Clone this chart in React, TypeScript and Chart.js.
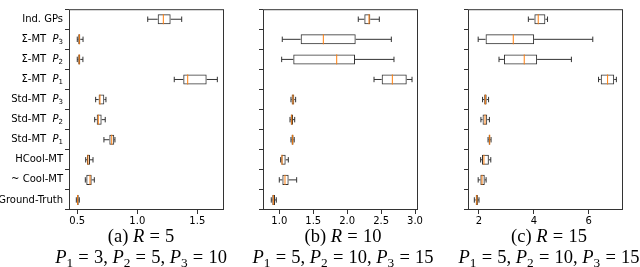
import React, { useEffect, useRef } from "react";
import { Chart, registerables } from "chart.js";
Chart.register(...registerables);

const categories = ["Ind. GPs", "Σ-MT  P3", "Σ-MT  P2", "Σ-MT  P1", "Std-MT  P3", "Std-MT  P2", "Std-MT  P1", "HCool-MT", "~ Cool-MT", "Ground-Truth"];

// Panel (a) R = 5
const lowA = [1.087, 0.500, 0.500, 1.308, 0.653, 0.645, 0.722, 0.570, 0.567, 0.492];
const q1A = [1.170, 0.508, 0.508, 1.383, 0.678, 0.662, 0.767, 0.581, 0.575, 0.498];
const medA = [1.217, 0.517, 0.516, 1.420, 0.689, 0.675, 0.787, 0.589, 0.606, 0.503];
const q3A = [1.278, 0.525, 0.525, 1.578, 0.725, 0.703, 0.808, 0.606, 0.620, 0.512];
const highA = [1.370, 0.548, 0.547, 1.667, 0.739, 0.733, 0.814, 0.631, 0.642, 0.517];
const ticksA = [0.5, 1.0, 1.5];

// Panel (b) R = 10
const lowB = [2.164, 1.044, 1.035, 2.396, 1.172, 1.158, 1.172, 1.020, 1.000, 0.882];
const q1B = [2.253, 1.315, 1.206, 2.509, 1.182, 1.168, 1.180, 1.030, 1.045, 0.897];
const medB = [2.322, 1.649, 1.846, 2.666, 1.202, 1.183, 1.197, 1.040, 1.084, 0.912];
const q3B = [2.341, 2.126, 2.116, 2.878, 1.221, 1.202, 1.210, 1.094, 1.138, 0.937];
const highB = [2.474, 2.651, 2.690, 2.956, 1.241, 1.227, 1.220, 1.133, 1.256, 0.956];
const ticksB = [1.0, 1.5, 2.0, 2.5, 3.0];

// Panel (c) R = 15
const lowC = [3.80, 1.97, 2.73, 6.36, 2.13, 2.07, 2.33, 2.06, 1.97, 1.83];
const q1C = [4.02, 2.24, 2.91, 6.44, 2.19, 2.13, 2.35, 2.11, 2.05, 1.88];
const medC = [4.16, 3.25, 3.65, 6.69, 2.23, 2.22, 2.39, 2.18, 2.11, 1.92];
const q3C = [4.42, 4.01, 4.12, 6.93, 2.28, 2.30, 2.41, 2.36, 2.21, 1.96];
const highC = [4.50, 6.15, 5.37, 7.01, 2.35, 2.38, 2.44, 2.43, 2.26, 2.00];
const ticksC = [2, 4, 6];

const FONT = "'DejaVu Sans', sans-serif";

type PanelProps = {
  left: number; width: number; yWidth: number;
  low: number[]; q1: number[]; med: number[]; q3: number[]; high: number[];
  ticks: number[]; min: number; max: number; decimals: number; showLabels: boolean;
};

function makePlugin(p: PanelProps) {
  return {
    id: "boxExtras",
    afterDatasetsDraw(chart: any) {
      const { ctx, chartArea } = chart;
      const xs = chart.scales.x;
      const ys = chart.scales.y;
      const band = ys.getPixelForValue(1) - ys.getPixelForValue(0);
      const boxH = band * 0.5;
      const capH = band * 0.27;
      ctx.save();
      ctx.lineWidth = 1;
      for (let i = 0; i < categories.length; i++) {
        const y = ys.getPixelForValue(i);
        const xl = xs.getPixelForValue(p.low[i]);
        const x1 = xs.getPixelForValue(p.q1[i]);
        const x3 = xs.getPixelForValue(p.q3[i]);
        const xh = xs.getPixelForValue(p.high[i]);
        const xm = xs.getPixelForValue(p.med[i]);
        ctx.strokeStyle = "#333";
        ctx.beginPath();
        ctx.moveTo(xl, y); ctx.lineTo(x1, y);
        ctx.moveTo(x3, y); ctx.lineTo(xh, y);
        ctx.moveTo(xl, y - capH / 2); ctx.lineTo(xl, y + capH / 2);
        ctx.moveTo(xh, y - capH / 2); ctx.lineTo(xh, y + capH / 2);
        ctx.stroke();
        ctx.strokeStyle = "#ff7f0e";
        ctx.beginPath();
        ctx.moveTo(xm, y - boxH / 2); ctx.lineTo(xm, y + boxH / 2);
        ctx.stroke();
      }
      ctx.strokeStyle = "#333";
      ctx.strokeRect(chartArea.left + 0.5, chartArea.top + 0.5, chartArea.right - chartArea.left - 1, chartArea.bottom - chartArea.top - 1);
      if (p.showLabels) {
        ctx.fillStyle = "#000";
        ctx.textBaseline = "middle";
        const right = chartArea.left - 6;
        for (let i = 0; i < categories.length; i++) {
          const y = ys.getPixelForValue(i);
          const m = categories[i].match(/^(.*)P(\d)$/);
          if (m) {
            ctx.font = `10px ${FONT}`;
            const wPre = ctx.measureText(m[1]).width;
            ctx.font = `italic 10px ${FONT}`;
            const wP = ctx.measureText("P").width;
            ctx.font = `7px ${FONT}`;
            const wS = ctx.measureText(m[2]).width;
            let x = right - wPre - wP - wS;
            ctx.textAlign = "left";
            ctx.font = `10px ${FONT}`;
            ctx.fillText(m[1], x, y);
            x += wPre;
            ctx.font = `italic 10px ${FONT}`;
            ctx.fillText("P", x, y);
            x += wP;
            ctx.font = `7px ${FONT}`;
            ctx.fillText(m[2], x, y + 2.5);
          } else {
            ctx.textAlign = "right";
            ctx.font = `10px ${FONT}`;
            ctx.fillText(categories[i], right, y);
          }
        }
      }
      ctx.restore();
    },
  };
}

function Panel(p: PanelProps) {
  const ref = useRef<HTMLCanvasElement>(null);
  useEffect(() => {
    if (!ref.current) return;
    const chart = new Chart(ref.current, {
      type: "bar",
      data: {
        labels: categories,
        datasets: [
          {
            data: p.q1.map((v, i) => [v, p.q3[i]]) as any,
            backgroundColor: "rgba(0,0,0,0)",
            borderColor: "#333",
            borderWidth: 1,
            borderSkipped: false,
            barPercentage: 0.5,
            categoryPercentage: 1,
          },
        ],
      },
      options: {
        indexAxis: "y",
        animation: false,
        responsive: false,
        maintainAspectRatio: false,
        devicePixelRatio: 1,
        layout: { padding: { top: 1, right: 8, left: 0, bottom: 0 } },
        plugins: { legend: { display: false }, tooltip: { enabled: false } },
        scales: {
          y: {
            type: "category",
            offset: true,
            border: { display: false },
            grid: { drawOnChartArea: false, drawTicks: true, tickLength: 4, color: "#333" },
            ticks: { callback: () => "", padding: 2 },
            afterFit: (s: any) => { s.width = p.yWidth; },
          },
          x: {
            type: "linear",
            min: p.min,
            max: p.max,
            border: { display: false },
            grid: { drawOnChartArea: false, drawTicks: true, tickLength: 4, color: "#333" },
            afterBuildTicks: (s: any) => { s.ticks = p.ticks.map((v) => ({ value: v })); },
            ticks: {
              autoSkip: false,
              maxRotation: 0,
              padding: 1,
              color: "#000",
              font: { family: FONT, size: 10 },
              callback: (v: any) => Number(v).toFixed(p.decimals),
            },
            afterFit: (s: any) => { s.height = 22; },
          },
        },
      },
      plugins: [makePlugin(p)],
    } as any);
    return () => chart.destroy();
  }, []);
  return (
    <canvas
      ref={ref}
      width={p.width}
      height={232}
      style={{ position: "absolute", left: p.left, top: 0, width: p.width, height: 232 }}
    />
  );
}

const capStyle: React.CSSProperties = {
  position: "absolute",
  width: 240,
  textAlign: "center",
  fontFamily: "'Liberation Serif', serif",
  fontSize: 18.5,
  lineHeight: "20px",
  color: "#000",
  whiteSpace: "nowrap",
};
const subStyle: React.CSSProperties = { fontSize: "0.72em", verticalAlign: "-0.3em", lineHeight: 0 };
const eqStyle: React.CSSProperties = { margin: "0 0.28em" };

function Sub({ n }: { n: number }) {
  return <span style={subStyle}>{n}</span>;
}
function Eq() {
  return <span style={eqStyle}>=</span>;
}

function Caption({ cx, letter, r, p1, p2, p3 }: { cx: number; letter: string; r: number; p1: number; p2: number; p3: number }) {
  return (
    <>
      <div style={{ ...capStyle, left: cx - 120, top: 226 }}>
        ({letter}) <i>R</i><Eq />{r}
      </div>
      <div style={{ ...capStyle, left: cx - 120, top: 247 }}>
        <i>P</i><Sub n={1} /><Eq />{p1}, <i>P</i><Sub n={2} /><Eq />{p2}, <i>P</i><Sub n={3} /><Eq />{p3}
      </div>
    </>
  );
}

export default function App() {
  return (
    <div style={{ position: "fixed", left: 0, top: 0, width: 640, height: 267, background: "#fff", overflow: "hidden" }}>
      <Panel left={0} width={232} yWidth={69} low={lowA} q1={q1A} med={medA} q3={q3A} high={highA} ticks={ticksA} min={0.431} max={1.7225} decimals={1} showLabels={true} />
      <Panel left={240} width={186} yWidth={23} low={lowB} q1={q1B} med={medB} q3={q3B} high={highB} ticks={ticksB} min={0.76} max={3.044} decimals={1} showLabels={false} />
      <Panel left={445} width={186} yWidth={23} low={lowC} q1={q1C} med={medC} q3={q3C} high={highC} ticks={ticksC} min={1.599} max={7.252} decimals={0} showLabels={false} />
      <Caption cx={141} letter="a" r={5} p1={3} p2={5} p3={10} />
      <Caption cx={343} letter="b" r={10} p1={5} p2={10} p3={15} />
      <Caption cx={549} letter="c" r={15} p1={5} p2={10} p3={15} />
    </div>
  );
}
